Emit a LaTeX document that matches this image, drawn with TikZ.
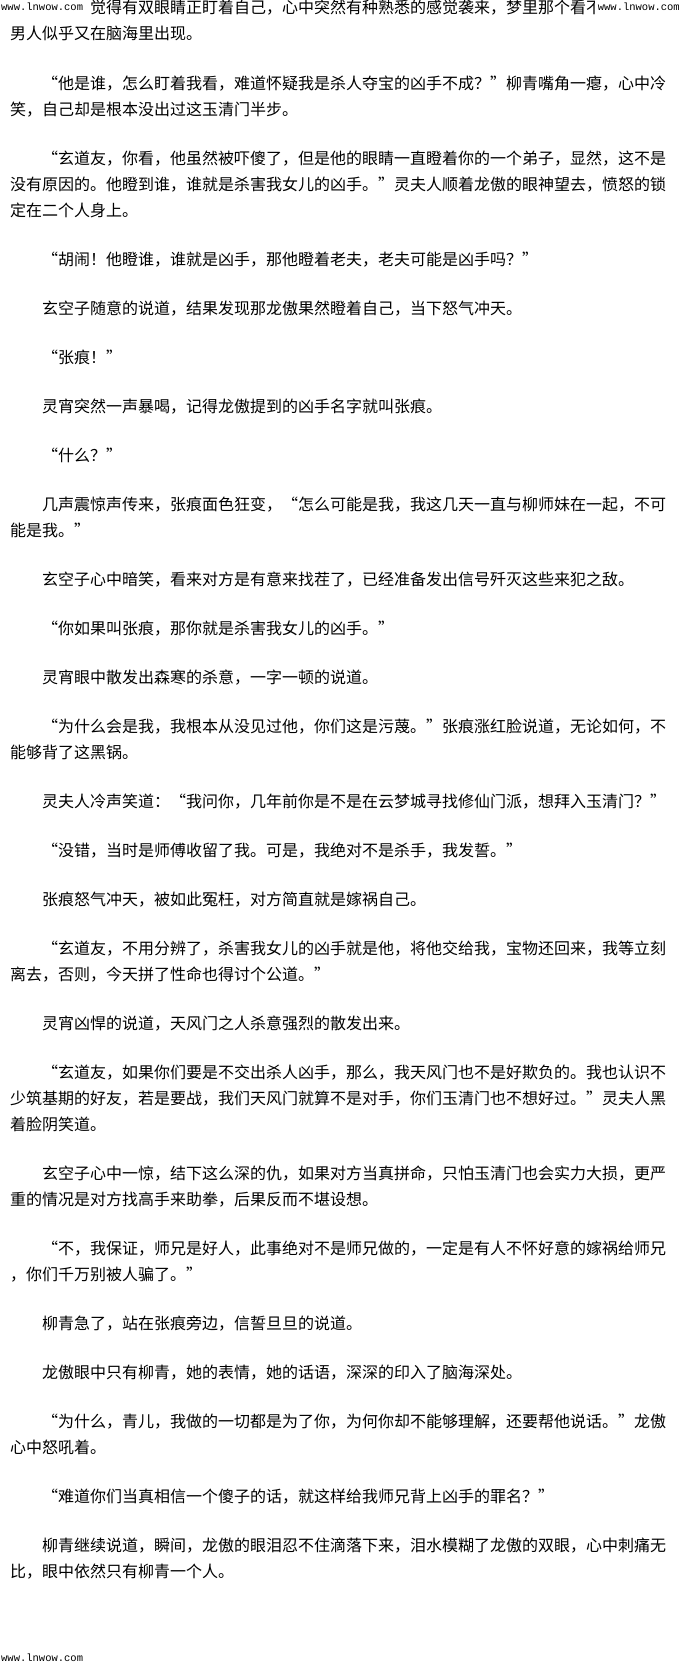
\documentclass[tikz,border=0pt]{standalone}
\usepackage{fontspec}
\newfontfamily\cjk{Noto Sans CJK SC}
\newfontfamily\wmfont{Liberation Mono}
\makeatletter
\def\fw@end{\fw@end}
\newcommand\fwtext[1]{\fw@loop#1\fw@end}
\def\fw@loop#1{\ifx\fw@end#1\else\fw@cell{#1}\expandafter\fw@loop\fi}
\def\fw@lq{“}
\def\fw@rq{”}
\def\fw@cell#1{\def\fw@tmp{#1}\ifx\fw@tmp\fw@lq\makebox[16bp][r]{#1}\else\ifx\fw@tmp\fw@rq\makebox[16bp][l]{#1}\else\makebox[16bp][c]{#1}\fi\fi}
\makeatother
\tikzset{
  ln/.style={anchor=base west, inner sep=0pt, font=\cjk\fontsize{16bp}{16bp}\selectfont},
  wm/.style={inner sep=0pt, font=\wmfont\fontsize{10.5bp}{10.5bp}\selectfont},
}
\begin{document}
\begin{tikzpicture}[x=1bp,y=-1bp]
\fill[white] (0,0) rectangle (680,1667);
\useasboundingbox (0,0) rectangle (680,1667);
% P1 (its first characters and last ones lie under the watermarks)
\node[ln] (p1a) at (90,14) {\fwtext{觉得有双眼睛正盯着自己，心中突然有种熟悉的感觉袭来，梦里那个看不}};
\node[ln] (p1b) at (10,40) {\fwtext{男人似乎又在脑海里出现。}};
% P2
\node[ln] (p2a) at (42,89) {\fwtext{“他是谁，怎么盯着我看，难道怀疑我是杀人夺宝的凶手不成？”柳青嘴角一瘪，心中冷}};
\node[ln] (p2b) at (10,115) {\fwtext{笑，自己却是根本没出过这玉清门半步。}};
% P3
\node[ln] (p3a) at (42,164) {\fwtext{“玄道友，你看，他虽然被吓傻了，但是他的眼睛一直瞪着你的一个弟子，显然，这不是}};
\node[ln] (p3b) at (10,190) {\fwtext{没有原因的。他瞪到谁，谁就是杀害我女儿的凶手。”灵夫人顺着龙傲的眼神望去，愤怒的锁}};
\node[ln] (p3c) at (10,216) {\fwtext{定在二个人身上。}};
% P4
\node[ln] (p4a) at (42,265) {\fwtext{“胡闹！他瞪谁，谁就是凶手，那他瞪着老夫，老夫可能是凶手吗？”}};
% P5
\node[ln] (p5a) at (42,314) {\fwtext{玄空子随意的说道，结果发现那龙傲果然瞪着自己，当下怒气冲天。}};
% P6
\node[ln] (p6a) at (42,363) {\fwtext{“张痕！”}};
% P7
\node[ln] (p7a) at (42,412) {\fwtext{灵宵突然一声暴喝，记得龙傲提到的凶手名字就叫张痕。}};
% P8
\node[ln] (p8a) at (42,461) {\fwtext{“什么？”}};
% P9
\node[ln] (p9a) at (42,510) {\fwtext{几声震惊声传来，张痕面色狂变，“怎么可能是我，我这几天一直与柳师妹在一起，不可}};
\node[ln] (p9b) at (10,536) {\fwtext{能是我。”}};
% P10
\node[ln] (p10a) at (42,585) {\fwtext{玄空子心中暗笑，看来对方是有意来找茬了，已经准备发出信号歼灭这些来犯之敌。}};
% P11
\node[ln] (p11a) at (42,634) {\fwtext{“你如果叫张痕，那你就是杀害我女儿的凶手。”}};
% P12
\node[ln] (p12a) at (42,683) {\fwtext{灵宵眼中散发出森寒的杀意，一字一顿的说道。}};
% P13
\node[ln] (p13a) at (42,732) {\fwtext{“为什么会是我，我根本从没见过他，你们这是污蔑。”张痕涨红脸说道，无论如何，不}};
\node[ln] (p13b) at (10,758) {\fwtext{能够背了这黑锅。}};
% P14
\node[ln] (p14a) at (42,807) {\fwtext{灵夫人冷声笑道：“我问你，几年前你是不是在云梦城寻找修仙门派，想拜入玉清门？”}};
% P15
\node[ln] (p15a) at (42,856) {\fwtext{“没错，当时是师傅收留了我。可是，我绝对不是杀手，我发誓。”}};
% P16
\node[ln] (p16a) at (42,905) {\fwtext{张痕怒气冲天，被如此冤枉，对方简直就是嫁祸自己。}};
% P17
\node[ln] (p17a) at (42,954) {\fwtext{“玄道友，不用分辨了，杀害我女儿的凶手就是他，将他交给我，宝物还回来，我等立刻}};
\node[ln] (p17b) at (10,980) {\fwtext{离去，否则，今天拼了性命也得讨个公道。”}};
% P18
\node[ln] (p18a) at (42,1029) {\fwtext{灵宵凶悍的说道，天风门之人杀意强烈的散发出来。}};
% P19
\node[ln] (p19a) at (42,1078) {\fwtext{“玄道友，如果你们要是不交出杀人凶手，那么，我天风门也不是好欺负的。我也认识不}};
\node[ln] (p19b) at (10,1104) {\fwtext{少筑基期的好友，若是要战，我们天风门就算不是对手，你们玉清门也不想好过。”灵夫人黑}};
\node[ln] (p19c) at (10,1130) {\fwtext{着脸阴笑道。}};
% P20
\node[ln] (p20a) at (42,1179) {\fwtext{玄空子心中一惊，结下这么深的仇，如果对方当真拼命，只怕玉清门也会实力大损，更严}};
\node[ln] (p20b) at (10,1205) {\fwtext{重的情况是对方找高手来助拳，后果反而不堪设想。}};
% P21
\node[ln] (p21a) at (42,1254) {\fwtext{“不，我保证，师兄是好人，此事绝对不是师兄做的，一定是有人不怀好意的嫁祸给师兄}};
\node[ln] (p21b) at (10,1280) {\fwtext{，你们千万别被人骗了。”}};
% P22
\node[ln] (p22a) at (42,1329) {\fwtext{柳青急了，站在张痕旁边，信誓旦旦的说道。}};
% P23
\node[ln] (p23a) at (42,1378) {\fwtext{龙傲眼中只有柳青，她的表情，她的话语，深深的印入了脑海深处。}};
% P24
\node[ln] (p24a) at (42,1427) {\fwtext{“为什么，青儿，我做的一切都是为了你，为何你却不能够理解，还要帮他说话。”龙傲}};
\node[ln] (p24b) at (10,1453) {\fwtext{心中怒吼着。}};
% P25
\node[ln] (p25a) at (42,1502) {\fwtext{“难道你们当真相信一个傻子的话，就这样给我师兄背上凶手的罪名？”}};
% P26
\node[ln] (p26a) at (42,1551) {\fwtext{柳青继续说道，瞬间，龙傲的眼泪忍不住滴落下来，泪水模糊了龙傲的双眼，心中刺痛无}};
\node[ln] (p26b) at (10,1577) {\fwtext{比，眼中依然只有柳青一个人。}};
% watermarks
\fill[white] (595,0) rectangle (680,12);
\node[wm, anchor=base west] (wmtl) at (1,11) {www.lnwow.com};
\node[wm, anchor=base east] (wmtr) at (680,11) {www.lnwow.com};
\node[wm, anchor=base west] (wmbl) at (1,1661) {www.lnwow.com};
\end{tikzpicture}
\end{document}
